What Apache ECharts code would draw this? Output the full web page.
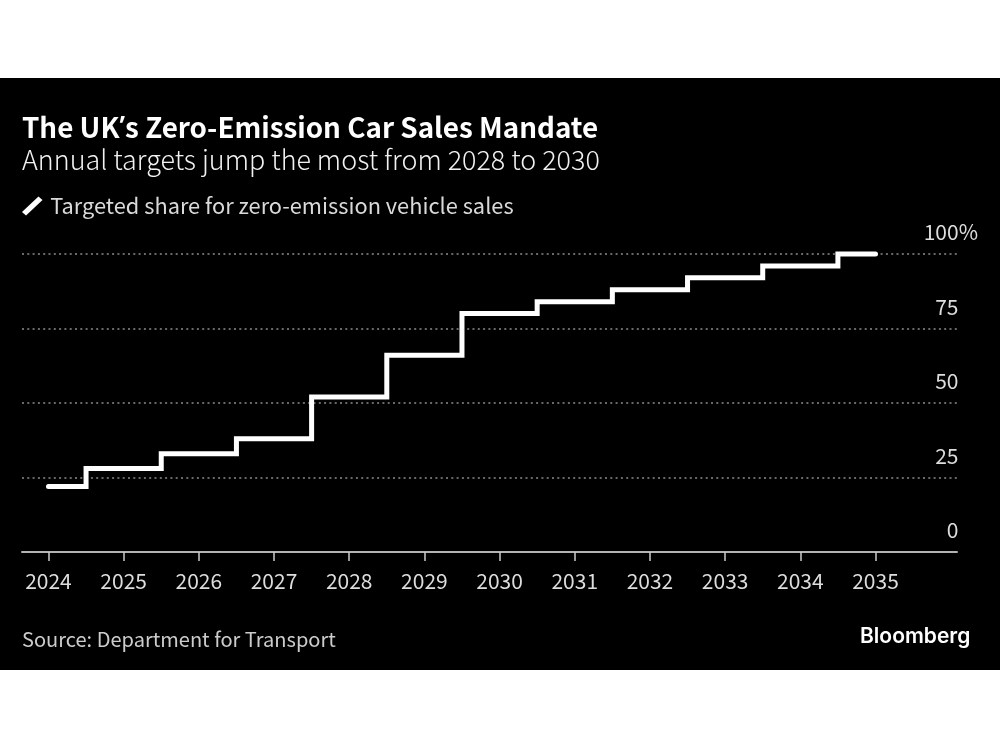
<!DOCTYPE html>
<html><head><meta charset="utf-8">
<style>html,body{margin:0;padding:0;background:#fff;width:1000px;height:750px;overflow:hidden}
#c{position:absolute;left:0;top:78px;width:1000px;height:592px}</style>
<script src="https://cdn.jsdelivr.net/npm/echarts@6/dist/echarts.min.js"></script>
</head><body><div id="c"></div>
<script>
const years = [2024,2025,2026,2027,2028,2029,2030,2031,2032,2033,2034,2035];
const targets = [22,28,33,38,52,66,80,84,88,92,96,100];
const yTicks = [0,25,50,75,100];
const seriesName = 'Targeted share for zero-emission vehicle sales';
const titleText = 'The UK{a|’}s Zero-Emission Car Sales Mandate';
const subtitleText = 'Annual targets jump the most from 2028 to 2030';
const sourceText = 'Source: Department for Transport';
const brandText = 'Bloomberg';
const F = '"Noto Sans CJK SC"';
const chart = echarts.init(document.getElementById('c'), null, {renderer:'canvas'});
chart.setOption({
  backgroundColor:'#000',
  animation:false,
  title:[
    {text:titleText,left:22,top:29,padding:0,textStyle:{color:'#fff',fontFamily:F,fontWeight:600,fontSize:27.8,lineHeight:40,
      rich:{a:{color:'#fff',fontFamily:'"Noto Sans"',fontWeight:600,fontSize:27.8,lineHeight:40}}}},
    {text:subtitleText,left:22,top:63,padding:0,textStyle:{color:'#f2f2f2',fontFamily:F,fontWeight:300,fontSize:26.9,lineHeight:38}},
    {text:sourceText,left:22,top:546,padding:0,textStyle:{color:'#ccc',fontFamily:F,fontWeight:400,fontSize:20.05,lineHeight:30}},
    {text:brandText,left:860,top:544,padding:0,textStyle:{color:'#fff',fontFamily:'Inter',fontWeight:600,fontSize:21,lineHeight:30,letterSpacing:-0.4}}
  ],
  legend:{left:22,top:117,padding:0,itemWidth:22,itemHeight:19,itemGap:8,
    data:[{name:seriesName,icon:'path://M0 15.5 L16.5 0 L20.5 3.5 L4 19 Z'}],
    textStyle:{color:'#d9d9d9',fontFamily:F,fontWeight:400,fontSize:21.8,padding:[0,0,0,2]}},
  grid:{left:22,right:43,top:176,height:298},
  xAxis:{type:'value',min:2023.648,max:2036.084,
    axisLine:{show:true,onZero:false,lineStyle:{color:'#b3b3b3',width:2}},
    axisTick:{show:true,customValues:years,length:9,lineStyle:{color:'#ccc',width:1.5}},
    axisLabel:{customValues:years,margin:19,color:'#ddd',fontFamily:F,fontSize:21,formatter:v=>String(v)},
    splitLine:{show:false}},
  yAxis:{type:'value',min:0,max:100,interval:25,position:'right',
    axisLine:{show:false},axisTick:{show:false},
    axisLabel:{inside:true,margin:-21,align:'right',verticalAlign:'bottom',padding:[0,0,11,0],
      color:'#ddd',fontFamily:F,fontSize:21,
      formatter:v=>v===100?v+'%':v+'{s|}',rich:{s:{width:19.5}}},
    splitLine:{show:true,lineStyle:{color:'#8c8c8c',width:1.5,type:[2,3.3]}}},
  series:[{name:seriesName,type:'line',step:'middle',showSymbol:false,clip:false,
    data:years.map((y,i)=>[y,targets[i]]),
    lineStyle:{color:'#fff',width:5,cap:'round',join:'miter'},itemStyle:{color:'#fff'}}]
});
</script></body></html>
